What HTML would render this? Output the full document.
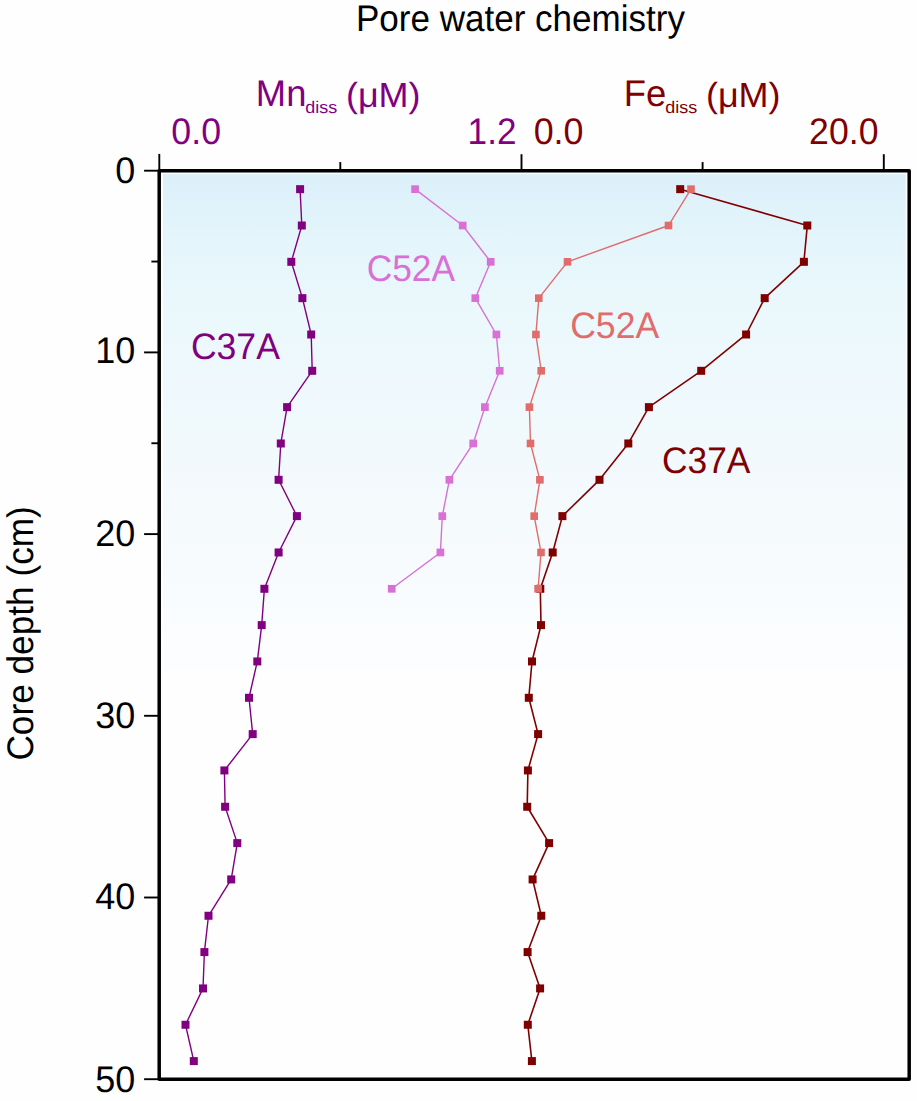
<!DOCTYPE html>
<html><head><meta charset="utf-8"><style>
html,body{margin:0;padding:0;background:#fefefe;}
svg{display:block;}
text{font-family:"Liberation Sans", sans-serif;text-rendering:geometricPrecision;}
</style></head><body>
<svg width="917" height="1101" viewBox="0 0 917 1101">
<defs>
<linearGradient id="bg" gradientUnits="userSpaceOnUse" x1="0" y1="174" x2="0" y2="668.7">
<stop offset="0" stop-color="rgb(220,240,250)"/>
<stop offset="0.137" stop-color="rgb(228,245,251)"/>
<stop offset="0.255" stop-color="rgb(234,248,252)"/>
<stop offset="0.489" stop-color="rgb(240,249,252)"/>
<stop offset="0.74" stop-color="rgb(246,250,253)"/>
<stop offset="0.86" stop-color="rgb(249,252,254)"/>
<stop offset="1" stop-color="rgb(252,253,254)"/>
</linearGradient>
</defs>
<rect x="0" y="0" width="917" height="1101" fill="#fefefe"/>
<rect x="163" y="174.2" width="742.8" height="494.5" fill="url(#bg)"/>
<text transform="translate(355.96,31.10) scale(0.9467,1)" font-size="37" fill="#000">Pore water chemistry</text>
<text transform="translate(255.85,106.30) scale(0.9826,1)" font-size="37" fill="#800080">Mn</text>
<text transform="translate(305.21,113.40) scale(1.0574,1)" font-size="17" fill="#800080">diss</text>
<text transform="translate(345.89,106.60) scale(1.0286,1)" font-size="35" fill="#800080">(μM)</text>
<text transform="translate(623.75,106.30) scale(0.9844,1)" font-size="37" fill="#800000">Fe</text>
<text transform="translate(665.21,113.40) scale(1.0574,1)" font-size="17" fill="#800000">diss</text>
<text transform="translate(705.89,106.60) scale(1.0286,1)" font-size="35" fill="#800000">(μM)</text>
<text transform="translate(171.35,144.30) scale(0.9670,1)" font-size="37" fill="#800080">0.0</text>
<text transform="translate(467.59,144.30) scale(0.9497,1)" font-size="37" fill="#800080">1.2</text>
<text transform="translate(533.64,144.30) scale(0.9711,1)" font-size="37" fill="#800000">0.0</text>
<text transform="translate(809.11,144.00) scale(0.9629,1)" font-size="37" fill="#800000">20.0</text>
<text transform="translate(115.17,182.50) scale(0.9730,1)" font-size="37" fill="#000">0</text>
<text transform="translate(95.22,363.40) scale(0.9730,1)" font-size="37" fill="#000">10</text>
<text transform="translate(95.22,546.10) scale(0.9730,1)" font-size="37" fill="#000">20</text>
<text transform="translate(95.22,728.10) scale(0.9730,1)" font-size="37" fill="#000">30</text>
<text transform="translate(95.22,909.40) scale(0.9730,1)" font-size="37" fill="#000">40</text>
<text transform="translate(95.22,1092.30) scale(0.9730,1)" font-size="37" fill="#000">50</text>
<text transform="translate(32.7,760.60) rotate(-90) scale(0.9517,1)" font-size="37" fill="#000">Core depth (cm)</text>
<line x1="159.3" y1="153.9" x2="159.3" y2="171" stroke="#000" stroke-width="1.9"/>
<line x1="340.3" y1="162.1" x2="340.3" y2="171" stroke="#000" stroke-width="1.9"/>
<line x1="521.5" y1="154.2" x2="521.5" y2="171" stroke="#000" stroke-width="1.9"/>
<line x1="702.6" y1="162.1" x2="702.6" y2="171" stroke="#000" stroke-width="1.9"/>
<line x1="883.8" y1="154.2" x2="883.8" y2="171" stroke="#000" stroke-width="1.9"/>
<line x1="144.1" y1="170.70" x2="159.2" y2="170.70" stroke="#000" stroke-width="1.9"/>
<line x1="151.4" y1="261.55" x2="159.2" y2="261.55" stroke="#000" stroke-width="1.9"/>
<line x1="144.1" y1="352.40" x2="159.2" y2="352.40" stroke="#000" stroke-width="1.9"/>
<line x1="151.4" y1="443.25" x2="159.2" y2="443.25" stroke="#000" stroke-width="1.9"/>
<line x1="144.1" y1="534.10" x2="159.2" y2="534.10" stroke="#000" stroke-width="1.9"/>
<line x1="144.1" y1="715.80" x2="159.2" y2="715.80" stroke="#000" stroke-width="1.9"/>
<line x1="144.1" y1="897.50" x2="159.2" y2="897.50" stroke="#000" stroke-width="1.9"/>
<line x1="144.1" y1="1079.20" x2="159.2" y2="1079.20" stroke="#000" stroke-width="1.9"/>
<polyline fill="none" stroke="#800080" stroke-width="1.4" stroke-linejoin="round" points="300.10,189.16 301.80,225.50 291.30,261.82 302.40,298.15 311.20,334.49 312.20,370.81 287.10,407.14 280.80,443.47 278.60,479.81 296.90,516.13 278.60,552.46 264.40,588.79 261.70,625.12 257.30,661.45 249.00,697.78 252.70,734.12 224.40,770.44 225.10,806.77 237.30,843.11 231.20,879.43 208.50,915.76 204.40,952.09 203.00,988.42 185.50,1024.76 193.80,1061.09"/>
<rect x="296.10" y="185.16" width="8" height="8" fill="#800080"/>
<rect x="297.80" y="221.50" width="8" height="8" fill="#800080"/>
<rect x="287.30" y="257.82" width="8" height="8" fill="#800080"/>
<rect x="298.40" y="294.15" width="8" height="8" fill="#800080"/>
<rect x="307.20" y="330.49" width="8" height="8" fill="#800080"/>
<rect x="308.20" y="366.81" width="8" height="8" fill="#800080"/>
<rect x="283.10" y="403.14" width="8" height="8" fill="#800080"/>
<rect x="276.80" y="439.47" width="8" height="8" fill="#800080"/>
<rect x="274.60" y="475.81" width="8" height="8" fill="#800080"/>
<rect x="292.90" y="512.13" width="8" height="8" fill="#800080"/>
<rect x="274.60" y="548.46" width="8" height="8" fill="#800080"/>
<rect x="260.40" y="584.79" width="8" height="8" fill="#800080"/>
<rect x="257.70" y="621.12" width="8" height="8" fill="#800080"/>
<rect x="253.30" y="657.45" width="8" height="8" fill="#800080"/>
<rect x="245.00" y="693.78" width="8" height="8" fill="#800080"/>
<rect x="248.70" y="730.12" width="8" height="8" fill="#800080"/>
<rect x="220.40" y="766.44" width="8" height="8" fill="#800080"/>
<rect x="221.10" y="802.77" width="8" height="8" fill="#800080"/>
<rect x="233.30" y="839.11" width="8" height="8" fill="#800080"/>
<rect x="227.20" y="875.43" width="8" height="8" fill="#800080"/>
<rect x="204.50" y="911.76" width="8" height="8" fill="#800080"/>
<rect x="200.40" y="948.09" width="8" height="8" fill="#800080"/>
<rect x="199.00" y="984.42" width="8" height="8" fill="#800080"/>
<rect x="181.50" y="1020.76" width="8" height="8" fill="#800080"/>
<rect x="189.80" y="1057.09" width="8" height="8" fill="#800080"/>
<polyline fill="none" stroke="#d870d6" stroke-width="1.4" stroke-linejoin="round" points="415.10,189.16 462.70,225.50 490.70,261.82 475.30,298.15 496.40,334.49 499.70,370.81 484.90,407.14 473.20,443.47 449.40,479.81 442.30,516.13 440.40,552.46 391.70,588.79"/>
<rect x="411.25" y="185.31" width="7.7" height="7.7" fill="#d870d6"/>
<rect x="458.85" y="221.65" width="7.7" height="7.7" fill="#d870d6"/>
<rect x="486.85" y="257.97" width="7.7" height="7.7" fill="#d870d6"/>
<rect x="471.45" y="294.30" width="7.7" height="7.7" fill="#d870d6"/>
<rect x="492.55" y="330.63" width="7.7" height="7.7" fill="#d870d6"/>
<rect x="495.85" y="366.96" width="7.7" height="7.7" fill="#d870d6"/>
<rect x="481.05" y="403.29" width="7.7" height="7.7" fill="#d870d6"/>
<rect x="469.35" y="439.62" width="7.7" height="7.7" fill="#d870d6"/>
<rect x="445.55" y="475.95" width="7.7" height="7.7" fill="#d870d6"/>
<rect x="438.45" y="512.28" width="7.7" height="7.7" fill="#d870d6"/>
<rect x="436.55" y="548.61" width="7.7" height="7.7" fill="#d870d6"/>
<rect x="387.85" y="584.94" width="7.7" height="7.7" fill="#d870d6"/>
<polyline fill="none" stroke="#800000" stroke-width="1.6" stroke-linejoin="round" points="680.20,189.16 807.30,225.50 803.90,261.82 764.70,298.15 746.10,334.49 701.20,370.81 648.90,407.14 628.30,443.47 599.50,479.81 562.40,516.13 552.70,552.46 540.30,588.79 541.00,625.12 532.00,661.45 528.80,697.78 538.10,734.12 527.90,770.44 527.20,806.77 549.10,843.11 532.60,879.43 541.30,915.76 527.60,952.09 540.10,988.42 527.80,1024.76 531.90,1061.09"/>
<rect x="676.20" y="185.16" width="8" height="8" fill="#800000"/>
<rect x="803.30" y="221.50" width="8" height="8" fill="#800000"/>
<rect x="799.90" y="257.82" width="8" height="8" fill="#800000"/>
<rect x="760.70" y="294.15" width="8" height="8" fill="#800000"/>
<rect x="742.10" y="330.49" width="8" height="8" fill="#800000"/>
<rect x="697.20" y="366.81" width="8" height="8" fill="#800000"/>
<rect x="644.90" y="403.14" width="8" height="8" fill="#800000"/>
<rect x="624.30" y="439.47" width="8" height="8" fill="#800000"/>
<rect x="595.50" y="475.81" width="8" height="8" fill="#800000"/>
<rect x="558.40" y="512.13" width="8" height="8" fill="#800000"/>
<rect x="548.70" y="548.46" width="8" height="8" fill="#800000"/>
<rect x="536.30" y="584.79" width="8" height="8" fill="#800000"/>
<rect x="537.00" y="621.12" width="8" height="8" fill="#800000"/>
<rect x="528.00" y="657.45" width="8" height="8" fill="#800000"/>
<rect x="524.80" y="693.78" width="8" height="8" fill="#800000"/>
<rect x="534.10" y="730.12" width="8" height="8" fill="#800000"/>
<rect x="523.90" y="766.44" width="8" height="8" fill="#800000"/>
<rect x="523.20" y="802.77" width="8" height="8" fill="#800000"/>
<rect x="545.10" y="839.11" width="8" height="8" fill="#800000"/>
<rect x="528.60" y="875.43" width="8" height="8" fill="#800000"/>
<rect x="537.30" y="911.76" width="8" height="8" fill="#800000"/>
<rect x="523.60" y="948.09" width="8" height="8" fill="#800000"/>
<rect x="536.10" y="984.42" width="8" height="8" fill="#800000"/>
<rect x="523.80" y="1020.76" width="8" height="8" fill="#800000"/>
<rect x="527.90" y="1057.09" width="8" height="8" fill="#800000"/>
<polyline fill="none" stroke="#e06c6c" stroke-width="1.4" stroke-linejoin="round" points="691.00,189.16 668.50,225.50 567.50,261.82 538.80,298.15 535.90,334.49 541.20,370.81 529.40,407.14 530.50,443.47 539.90,479.81 534.20,516.13 541.00,552.46 538.10,588.79"/>
<rect x="687.20" y="185.36" width="7.6" height="7.6" fill="#e06c6c"/>
<rect x="664.70" y="221.69" width="7.6" height="7.6" fill="#e06c6c"/>
<rect x="563.70" y="258.02" width="7.6" height="7.6" fill="#e06c6c"/>
<rect x="535.00" y="294.35" width="7.6" height="7.6" fill="#e06c6c"/>
<rect x="532.10" y="330.69" width="7.6" height="7.6" fill="#e06c6c"/>
<rect x="537.40" y="367.01" width="7.6" height="7.6" fill="#e06c6c"/>
<rect x="525.60" y="403.34" width="7.6" height="7.6" fill="#e06c6c"/>
<rect x="526.70" y="439.67" width="7.6" height="7.6" fill="#e06c6c"/>
<rect x="536.10" y="476.00" width="7.6" height="7.6" fill="#e06c6c"/>
<rect x="530.40" y="512.34" width="7.6" height="7.6" fill="#e06c6c"/>
<rect x="537.20" y="548.66" width="7.6" height="7.6" fill="#e06c6c"/>
<rect x="534.30" y="585.00" width="7.6" height="7.6" fill="#e06c6c"/>
<text transform="translate(190.88,358.70) scale(0.9613,1)" font-size="37" fill="#800080">C37A</text>
<text transform="translate(366.69,281.40) scale(0.9547,1)" font-size="37" fill="#d870d6">C52A</text>
<text transform="translate(570.18,338.30) scale(0.9613,1)" font-size="37" fill="#e06c6c">C52A</text>
<text transform="translate(661.99,472.50) scale(0.9547,1)" font-size="37" fill="#800000">C37A</text>
<rect x="159.20" y="170.70" width="750.00" height="908.60" fill="none" stroke="#000" stroke-width="3.5" stroke-linejoin="round"/>
</svg>
</body></html>
